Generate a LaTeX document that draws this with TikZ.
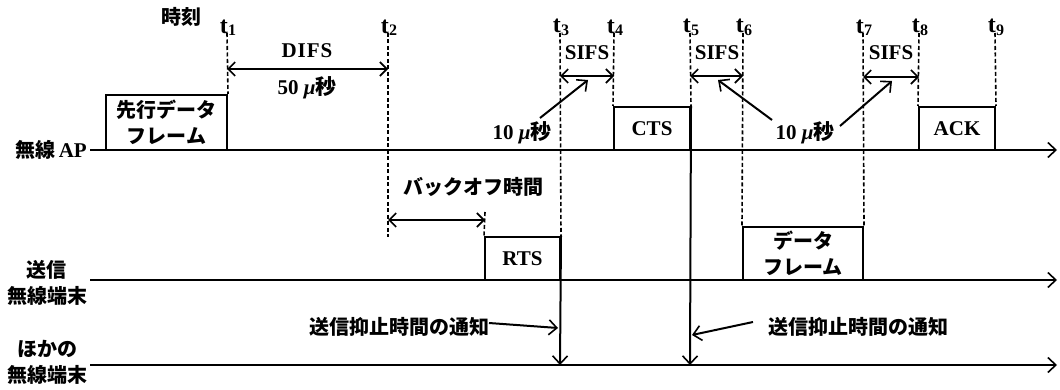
\documentclass[tikz,border=0pt]{standalone}
\usepackage{fontspec}
\setmainfont{Liberation Serif}
\newfontfamily\jp{Noto Sans CJK JP}
\usetikzlibrary{arrows.meta}
\newcommand\tlab[1]{{\fontsize{24}{24}\selectfont\bfseries t}\kern0.3pt\raisebox{-0.6ex}{\fontsize{16}{16}\selectfont\bfseries #1}}
\newcommand\mus{{\bfseries\itshape μ}{\jp\bfseries 秒}}
\tikzset{
  lat/.style={font=\bfseries\fontsize{21}{24}\selectfont, inner sep=0pt},
  jtxt/.style={font=\jp\bfseries\fontsize{20}{26}\selectfont, inner sep=0pt, align=center},
  axisline/.style={line width=2pt, -{Straight Barb[length=8pt,width=15pt,line width=1.6pt]}},
  tickline/.style={line width=1.6pt, dash pattern=on 4pt off 2.5pt},
  frame/.style={draw, line width=2pt, inner sep=0pt, align=center},
  dimarrow/.style={line width=2pt, {Straight Barb[length=7pt,width=14pt,line width=1.6pt]}-{Straight Barb[length=7pt,width=14pt,line width=1.6pt]}},
  ptr/.style={line width=2pt, -{Straight Barb[length=8pt,width=15pt,line width=1.6pt]}},
  tnode/.style={inner sep=0pt, anchor=south}
}
\begin{document}
\begin{tikzpicture}[x=1pt,y=-1pt]
\useasboundingbox (0,0) rectangle (1060,390);

% axes
\coordinate (apS) at (90,150);  \coordinate (apE) at (1057,150);
\coordinate (txS) at (90,280);  \coordinate (txE) at (1057,280);
\coordinate (otS) at (90,365);  \coordinate (otE) at (1057,365);
\draw[axisline] (apS) -- (apE);
\draw[axisline] (txS) -- (txE);
\draw[axisline] (otS) -- (otE);

% row labels
\node[jtxt, anchor=east] (lap) at (87,150) {無線\,{\rmfamily\bfseries\fontsize{21}{24}\selectfont AP}};
\node[jtxt] (ltx) at (47,283) {送信\\無線端末};
\node[jtxt] (lot) at (47,362) {ほかの\\無線端末};
\node[jtxt] (jikoku) at (181,17) {時刻};

% frames
\node[frame, jtxt, draw, minimum width=121pt, minimum height=55pt] (pre) at (166.5,122.5) {先行データ\\フレーム};
\node[frame, lat, draw, minimum width=76pt, minimum height=43pt] (cts) at (652,128.5) {CTS};
\node[frame, lat, draw, minimum width=76pt, minimum height=43pt] (ack) at (957,128.5) {ACK};
\node[frame, lat, draw, minimum width=75pt, minimum height=43pt] (rts) at (522.5,258.5) {RTS};
\node[frame, jtxt, draw, minimum width=120pt, minimum height=53pt] (dat) at (803,253.5) {データ\\フレーム};

% time marks
\foreach \n/\x in {1/227,2/388,3/560,4/614,5/690,6/743,7/863,8/919,9/995}{
  \coordinate (top\n) at (\x,33);
  \node[tnode] (tl\n) at (\x+1,36) {\tlab{\n}};
}
\coordinate (bot2) at (388,237);
\coordinate (boTop) at (485,212);
\draw[tickline] (top1) -- (pre.north east);
\draw[tickline] (top2) -- (bot2);
\draw[tickline] (top3) -- (rts.north east);
\draw[tickline] (top4) -- (cts.north west);
\draw[tickline] (top5) -- (cts.north east);
\draw[tickline] (top6) -- (dat.north west);
\draw[tickline] (top7) -- (dat.north east);
\draw[tickline] (top8) -- (ack.north west);
\draw[tickline] (top9) -- (ack.north east);
\draw[tickline] (boTop) -- (rts.north west);

% notification arrows down to other terminal
\coordinate (n3) at (560,365);
\coordinate (n5) at (690,365);
\draw[ptr] (rts.north east) -- (n3);
\draw[ptr] (cts.north east) -- (n5);

% DIFS
\coordinate (d1a) at (227,69); \coordinate (d1b) at (388,69);
\draw[dimarrow] (d1a) -- (d1b);
\node[lat] (difs) at (307,51) {D\kern1ptI\kern1ptF\kern1ptS};
\node[lat] (t50) at (307,88) {50 \mus};

% SIFS
\coordinate (s1a) at (560,76); \coordinate (s1b) at (614,76);
\coordinate (s2a) at (690,76); \coordinate (s2b) at (743,76);
\coordinate (s3a) at (863,77); \coordinate (s3b) at (919,77);
\draw[dimarrow] (s1a) -- (s1b);
\draw[dimarrow] (s2a) -- (s2b);
\draw[dimarrow] (s3a) -- (s3b);
\node[lat] (sifs1) at (587,53) {SIFS};
\node[lat] (sifs2) at (717,53) {SIFS};
\node[lat] (sifs3) at (891,53) {SIFS};

% 10 us labels
\node[lat] (m1) at (522,133) {10 \mus};
\node[lat] (m2) at (805,133) {10 \mus};
\coordinate (p1a) at (540,118); \coordinate (p1b) at (588,80);
\coordinate (p2a) at (772,120); \coordinate (p2b) at (718,80);
\coordinate (p3a) at (840,126); \coordinate (p3b) at (892,81);
\draw[ptr] (p1a) -- (p1b);
\draw[ptr] (p2a) -- (p2b);
\draw[ptr] (p3a) -- (p3b);

% backoff
\node[jtxt] (bo) at (473,187) {バックオフ時間};
\coordinate (b1) at (388,220); \coordinate (b2) at (485,220);
\draw[dimarrow] (b1) -- (b2);

% notifications
\node[jtxt, anchor=east] (nl) at (490,327) {送信抑止時間の通知};
\node[jtxt, anchor=west] (nr) at (768,327) {送信抑止時間の通知};
\coordinate (q1a) at (489,323); \coordinate (q1b) at (558,328);
\coordinate (q2a) at (753,322); \coordinate (q2b) at (692,335);
\draw[ptr] (q1a) -- (q1b);
\draw[ptr] (q2a) -- (q2b);
\end{tikzpicture}
\end{document}
